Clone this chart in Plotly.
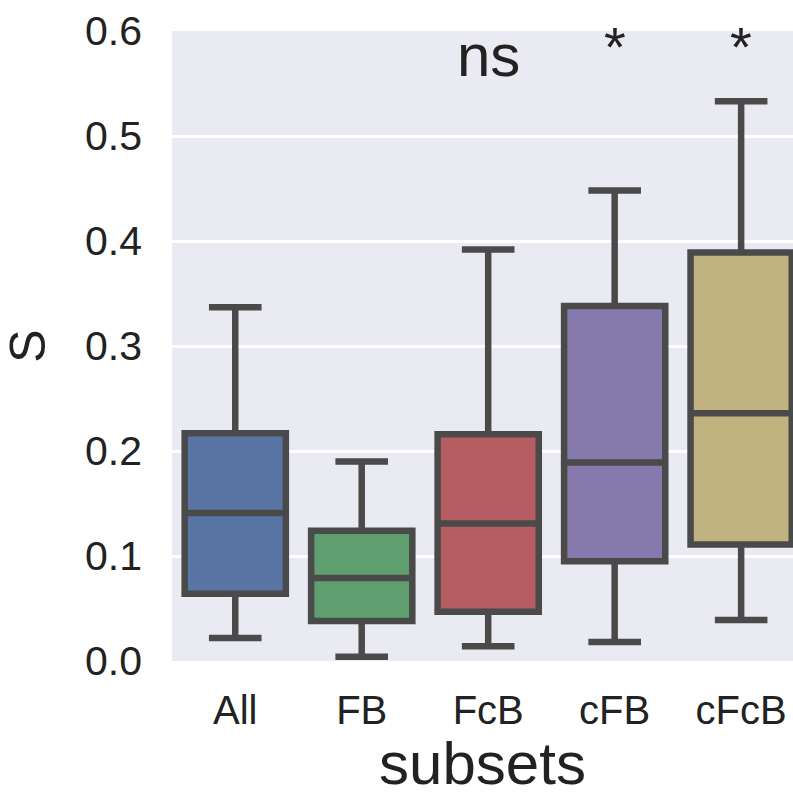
import plotly.graph_objects as go

categories = ["All", "FB", "FcB", "cFB", "cFcB"]
lower_fence = [0.022, 0.004, 0.014, 0.018, 0.039]
q1 = [0.064, 0.038, 0.047, 0.095, 0.111]
median = [0.141, 0.079, 0.131, 0.189, 0.236]
q3 = [0.217, 0.124, 0.216, 0.338, 0.389]
upper_fence = [0.337, 0.190, 0.392, 0.448, 0.533]
colors = ["#5975A4", "#5F9E6E", "#B55D60", "#857AAB", "#C1B37F"]
sig_labels = ["", "", "ns", "*", "*"]
y_ticks = [0.0, 0.1, 0.2, 0.3, 0.4, 0.5, 0.6]

fig = go.Figure()
for i, c in enumerate(categories):
    fig.add_trace(go.Box(
        x=[i], q1=[q1[i]], median=[median[i]], q3=[q3[i]],
        lowerfence=[lower_fence[i]], upperfence=[upper_fence[i]],
        fillcolor=colors[i], line=dict(color="#4A4A4A", width=6.5),
        width=0.8, whiskerwidth=0.52, boxpoints=False, showlegend=False,
        hoverinfo="skip",
    ))

for i, s in enumerate(sig_labels):
    if not s:
        continue
    if s == "ns":
        fig.add_annotation(x=i, y=0.577, text=s, showarrow=False,
                           font=dict(size=60, color="#222222", family="Arial"),
                           xref="x", yref="y", yanchor="middle")
    else:
        fig.add_annotation(x=i, y=0.585, text=s, showarrow=False,
                           font=dict(size=56, color="#222222", family="Arial"),
                           xref="x", yref="y", yanchor="middle")

fig.update_layout(
    width=793, height=797,
    margin=dict(l=172, r=0, t=31, b=136),
    paper_bgcolor="white", plot_bgcolor="#EAEAF2",
    font=dict(family="Arial", color="#222222"),
)
fig.update_xaxes(
    range=[-0.5, 4.41], tickmode="array", tickvals=list(range(len(categories))),
    ticktext=categories, showgrid=False, zeroline=False, showline=False,
    tickfont=dict(size=40, color="#222222"), ticklabelstandoff=22,
    title=dict(text="subsets", font=dict(size=60, color="#222222"), standoff=16),
)
fig.update_yaxes(
    range=[0, 0.6], tickvals=y_ticks, ticktext=[f"{v:.1f}" for v in y_ticks],
    showgrid=True, gridcolor="white", gridwidth=3, zeroline=False, showline=False,
    tickfont=dict(size=41, color="#222222"), ticklabelstandoff=29,
    title=dict(text="S", font=dict(size=50, color="#222222"), standoff=23),
)
fig.write_html("out.html")
